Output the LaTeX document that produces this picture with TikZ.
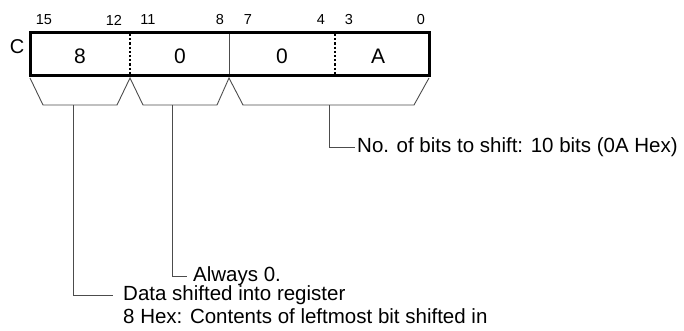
\documentclass[tikz,border=0pt]{standalone}
\usepackage{fontspec}
\setmainfont{Liberation Sans}

\begin{document}
\begin{tikzpicture}[
  x=1pt, y=-1pt,
  bitno/.style={font=\fontsize{14.5}{16}\selectfont, inner sep=0pt},
  digit/.style={font=\fontsize{21}{24}\selectfont, inner sep=0pt},
  note/.style={font=\fontsize{20.5}{24}\selectfont, anchor=west, inner sep=0pt},
  lead/.style={draw=black!70, line width=0.9pt},
  frame/.style={draw=black, line width=3pt}
]
  \useasboundingbox (0,0) rectangle (684,331);
  % register C
  \node[digit, font=\fontsize{20}{22}\selectfont] (reg) at (17,47) {C};
  \coordinate (tl) at (30,33);
  \coordinate (br) at (429,76);
  \draw[black, line width=2.2pt, dotted] (130,34) -- (130,75);
  \draw[black!70, line width=0.9pt] (229,34) -- (229,75);
  \draw[black, line width=2.2pt, dotted] (335,34) -- (335,75);
  \draw[frame] (tl) rectangle (br);
  \node[digit] (f3) at (80,56) {8};
  \node[digit] (f2) at (180,56) {0};
  \node[digit] (f1) at (282,56) {0};
  \node[digit] (f0) at (378,56) {A};
  % bit numbers
  \node[bitno] (b15) at (44,20) {15};
  \node[bitno] (b12) at (114,20) {12};
  \node[bitno] (b11) at (148,20) {11};
  \node[bitno] (b8) at (220,20) {8};
  \node[bitno] (b7) at (248,20) {7};
  \node[bitno] (b4) at (321,20) {4};
  \node[bitno] (b3) at (349,20) {3};
  \node[bitno] (b0) at (421,20) {0};
  % braces under the fields
  \draw[lead] (30,78) -- (43,105) -- (117,105) -- (130,78) -- (143,105)
    -- (217,105) -- (229,78) -- (243,105) -- (414,105) -- (429,78);
  \coordinate (s1) at (73,105);
  \coordinate (s2) at (172,105);
  \coordinate (s3) at (329,105);
  % notes
  \node[note] (n3) at (357,147) {No. of bits to shift: 10 bits (0A Hex)};
  \node[note] (n2) at (193,276) {Always 0.};
  \node[note] (n1) at (123,295) {Data shifted into register};
  \node[note] (n1b) at (123,316) {8 Hex: Contents of leftmost bit shifted in};
  \draw[lead] (s3) |- ([xshift=-2pt]n3.west);
  \draw[lead] (s2) |- ([xshift=-6pt]n2.west);
  \draw[lead] (s1) |- ([xshift=-10pt]n1.west);
\end{tikzpicture}
\end{document}
